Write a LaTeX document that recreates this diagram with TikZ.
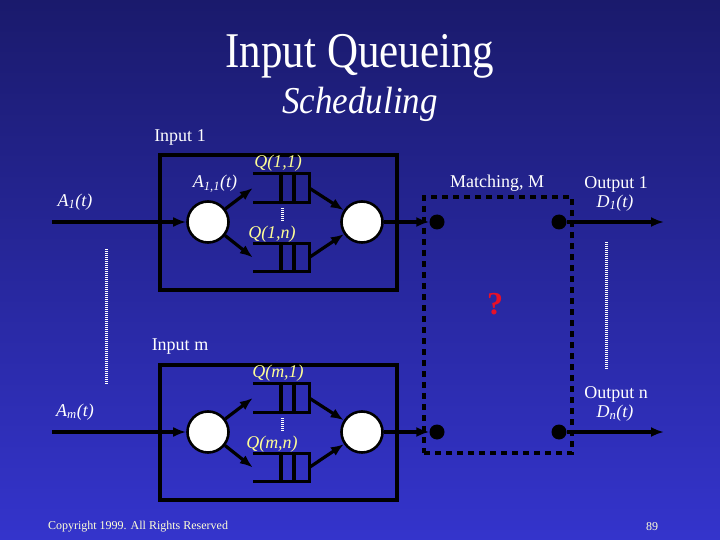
\documentclass[tikz,border=0pt]{standalone}
\usepackage{fontspec}
\setmainfont{Liberation Serif}
\usetikzlibrary{arrows.meta}
\definecolor{bgtop}{RGB}{26,26,108}
\definecolor{bgbot}{RGB}{52,52,204}
\definecolor{qyellow}{RGB}{255,255,150}
\definecolor{qmark}{RGB}{232,16,40}
\definecolor{copyw}{RGB}{255,255,215}
\newcommand{\sig}[2]{\textit{#1\textsubscript{#2}(t)}}
\begin{document}
\begin{tikzpicture}[
    x=1pt,y=-1pt,
    wire/.style={line width=3.2pt,black},
    arr/.style={wire,-{Latex[length=13pt,width=10pt]}},
    switch/.style={circle,draw=black,line width=2.6pt,fill=white,minimum size=41pt,inner sep=0pt},
    port/.style={circle,fill=black,minimum size=15pt,inner sep=0pt},
    fifo/.style={minimum width=56pt,minimum height=28pt,inner sep=0pt},
    block/.style={draw=black,line width=3.5pt,minimum width=237pt,minimum height=135pt,inner sep=0pt},
    lbl/.style={white,inner sep=0pt,font=\fontsize{18}{20}\selectfont},
    qlbl/.style={qyellow,inner sep=0pt,font=\fontsize{18}{20}\selectfont\itshape},
    dots/.style={white,line width=3pt,dash pattern=on 1pt off 1pt}
]
    \shade[top color=bgtop,bottom color=bgbot] (0,0) rectangle (720,540);
    \useasboundingbox (0,0) rectangle (720,540);

    % Titles
    \node[white,xscale=0.86,font=\fontsize{50}{54}\selectfont] (title) at (360,56) {Input Queueing};
    \node[white,xscale=0.92,font=\fontsize{38}{42}\selectfont\itshape] (subtitle) at (360,104) {Scheduling};

    % Matching box
    \node[draw=black,line width=3.5pt,dash pattern=on 6pt off 5pt,minimum width=148pt,minimum height=256pt,inner sep=0pt] (match) at (498,325) {};
    \node[lbl] (matchlbl) at (497,183) {Matching, M};
    \node[qmark,font=\fontsize{32}{34}\selectfont\bfseries] (qm) at (495,304) {?};

    % Inputs and outputs
    \foreach \i/\o/\r in {1/1/0, m/n/210}{
        \begin{scope}[yshift=-\r pt]
            \node[block] (blk\i) at (278.5,222.5) {};
            \node[lbl] (inlbl\i) at (180,137) {Input \i};
            \node[lbl] (alb\i) at (75,202) {\sig{A}{\i}};
            \coordinate (src\i) at (52,222);
            \node[switch] (dmx\i) at (208,222) {};
            \node[switch] (mux\i) at (362,222) {};
            \node[fifo] (q\i a) at (281,188) {};
            \node[fifo] (q\i b) at (281,257.5) {};
            \node[qlbl] (qla\i) at (278,163) {Q(\i,1)};
            \node[qlbl] (qlb\i) at (272,234) {Q(\i,n)};
            \foreach \q in {q\i a,q\i b}{
                \draw[wire] (\q.north west) -- (\q.north east) -- (\q.south east) -- (\q.south west);
                \draw[wire] (\q.north) -- (\q.south);
                \draw[wire] ([xshift=13pt]\q.north) -- ([xshift=13pt]\q.south);
            }
            \draw[dots] (282,208) -- (282,222);
            \node[port] (pl\i) at (437,222) {};
            \node[port] (pr\i) at (559,222) {};
            \coordinate (out\i) at (664,222);
            \node[lbl] (outlbl\i) at (616,184) {Output \o};
            \node[lbl] (dlb\i) at (615,203) {\sig{D}{\o}};
            % connectors
            \draw[arr] (src\i) -- (dmx\i);
            \draw[arr] (dmx\i) -- (q\i a.west);
            \draw[arr] (dmx\i) -- (q\i b.west);
            \draw[arr] (q\i a.east) -- (mux\i);
            \draw[arr] (q\i b.east) -- (mux\i);
            \draw[arr] (mux\i) -- (pl\i);
            \draw[arr] (pr\i) -- (out\i);
        \end{scope}
    }
    \node[lbl,font=\fontsize{18}{20}\selectfont\itshape] (a11) at (215,184) {A\textsubscript{1,1}(t)};

    % dotted ellipses
    \draw[dots] (106,249) -- (106,385);
    \draw[dots] (606,242) -- (606,370);

    % Footer
    \node[copyw,font=\fontsize{12}{14}\selectfont] (copy) at (138,527) {Copyright 1999. All Rights Reserved};
    \node[copyw,font=\fontsize{12}{14}\selectfont] (page) at (652,527) {89};
\end{tikzpicture}
\end{document}
